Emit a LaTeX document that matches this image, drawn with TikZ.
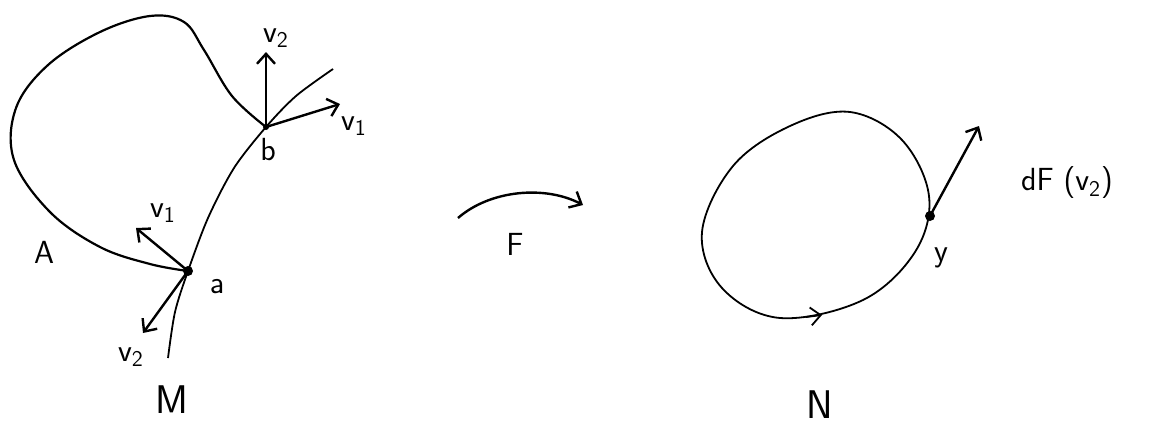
\documentclass[tikz,border=0pt]{standalone}
\usepackage{tikz}
\usetikzlibrary{arrows.meta}
\begin{document}
\begin{tikzpicture}[x=0.5pt,y=-0.5pt,>={Straight Barb[length=5pt,width=9pt]},
  curve/.style={line width=0.9pt},
  vec/.style={->,line width=1.2pt},
  lbl/.style={font=\sffamily\fontsize{16}{18}\selectfont,inner sep=1pt},
  big/.style={font=\sffamily\fontsize{20}{22}\selectfont,inner sep=1pt},
  dot/.style={circle,fill,inner sep=0pt,minimum size=5pt}]
\useasboundingbox (0,0) rectangle (1151,440);
% left: M and the loop A
\node[dot] (a) at (188,271) {};
\node[dot,minimum size=3pt] (b) at (266,127) {};
\draw[curve] plot[smooth] coordinates {(168,358) (175,312) (188,271) (208,218) (234,168) (266,127) (296,96) (333,69)};
\draw[curve,line width=1.1pt] plot[smooth,tension=0.6] coordinates {(188,271) (150,264) (100,247) (50,212) (14,160) (16,108) (48,65) (100,32) (150,16) (184,22) (204,50) (232,96) (266,127)};
% vectors at b
\coordinate (bv2) at (266,52);
\coordinate (bv1) at (340,104);
\draw[vec] (b.center) -- (bv2);
\draw[vec] (b.center) -- (bv1);
\node[lbl] (bv2l) at (276,38) {v\textsubscript{2}};
\node[lbl] (bv1l) at (354,126) {v\textsubscript{1}};
\node[lbl] (bl) at (268,150) {b};
% vectors at a
\coordinate (av1) at (136,228);
\coordinate (av2) at (143,333);
\draw[vec] (a.center) -- (av1);
\draw[vec] (a.center) -- (av2);
\node[lbl] (av1l) at (163,213) {v\textsubscript{1}};
\node[lbl] (av2l) at (131,357) {v\textsubscript{2}};
\node[lbl] (al) at (217,287) {a};
\node[lbl] (Al) at (44,252) {A};
\node[big] (Ml) at (172,400) {M};
% the map F
\coordinate (fs) at (458,218);
\coordinate (fe) at (583,205);
\draw[vec] (fs) .. controls (490,190) and (545,185) .. (fe);
\node[lbl] (Fl) at (515,244) {F};
% right: N
\node[dot] (y) at (930,216) {};
\draw[curve] plot[smooth cycle,tension=0.6] coordinates {(702,232) (722,288) (780,318) (863,300) (915,252) (929,196) (902,140) (850,112) (790,126) (733,166)};
\draw[curve,->] (806,317) -- (822,315);
\coordinate (yv) at (979,126);
\draw[vec] (y.center) -- (yv);
\node[lbl] (dFl) at (1067,183) {dF (v\textsubscript{2})};
\node[lbl] (yl) at (941,258) {y};
\node[big] (Nl) at (820,405) {N};
\end{tikzpicture}
\end{document}
